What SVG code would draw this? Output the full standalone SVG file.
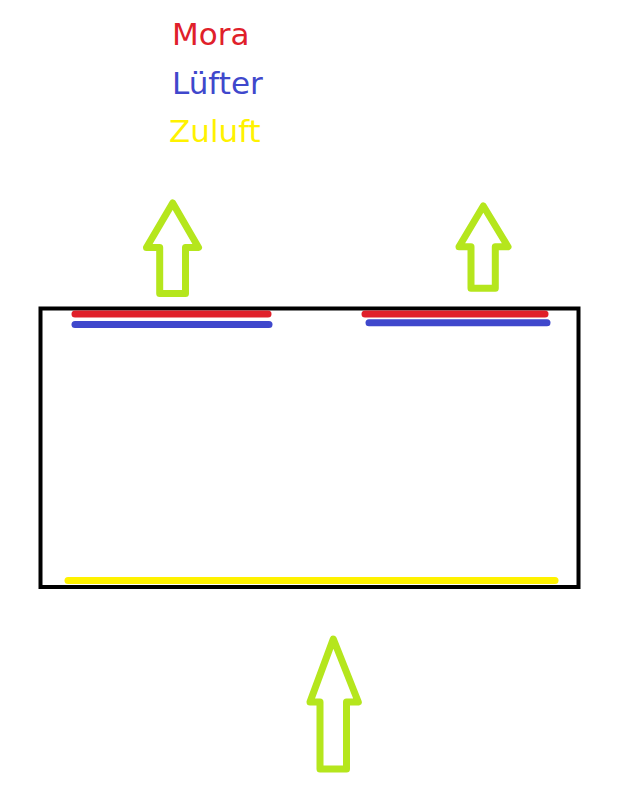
<svg xmlns="http://www.w3.org/2000/svg" width="621" height="786" viewBox="0 0 621 786">
<style>
.lbl{font-family:"DejaVu Sans","Liberation Sans",sans-serif;font-size:31px}
.arrow{fill:none;stroke:#B5E61D;stroke-width:7;stroke-linejoin:round;stroke-linecap:round}
.bar{stroke-width:7;stroke-linecap:round}
</style>
<rect width="621" height="786" fill="#ffffff"/>
<g id="legend">
<text class="lbl" x="172" y="45" fill="#E0202A">Mora</text>
<text class="lbl" x="172" y="94" fill="#3F48CC">Lüfter</text>
<text class="lbl" x="169" y="142" fill="#FFF200">Zuluft</text>
</g>
<g id="box">
<rect x="40.5" y="308.5" width="538" height="278.5" fill="none" stroke="#000" stroke-width="4"/>
</g>
<g id="mora-left"><line class="bar" x1="75" y1="314" x2="268" y2="314" stroke="#E0202A"/></g>
<g id="luefter-left"><line class="bar" x1="75" y1="324.5" x2="269" y2="324.5" stroke="#3F48CC"/></g>
<g id="mora-right"><line class="bar" x1="365" y1="314" x2="545" y2="314" stroke="#E0202A"/></g>
<g id="luefter-right"><line class="bar" x1="369" y1="322.7" x2="547" y2="322.7" stroke="#3F48CC"/></g>
<g id="zuluft"><line class="bar" x1="68" y1="580.5" x2="555" y2="580.5" stroke="#FFF200"/></g>
<g id="connectors">
<path class="arrow" d="M172.7,203 L198.5,247.5 L185.5,247.5 L185.5,293.5 L159.7,293.5 L159.7,247.5 L146.5,247.5 Z"/>
<path class="arrow" d="M483.3,206 L508,246.7 L495.3,246.7 L495.3,288.3 L471,288.3 L471,246.7 L459,246.7 Z"/>
<path class="arrow" d="M333.3,639 L358.3,702 L346.5,702 L346.5,769 L320,769 L320,702 L310,702 Z"/>
</g>
</svg>
